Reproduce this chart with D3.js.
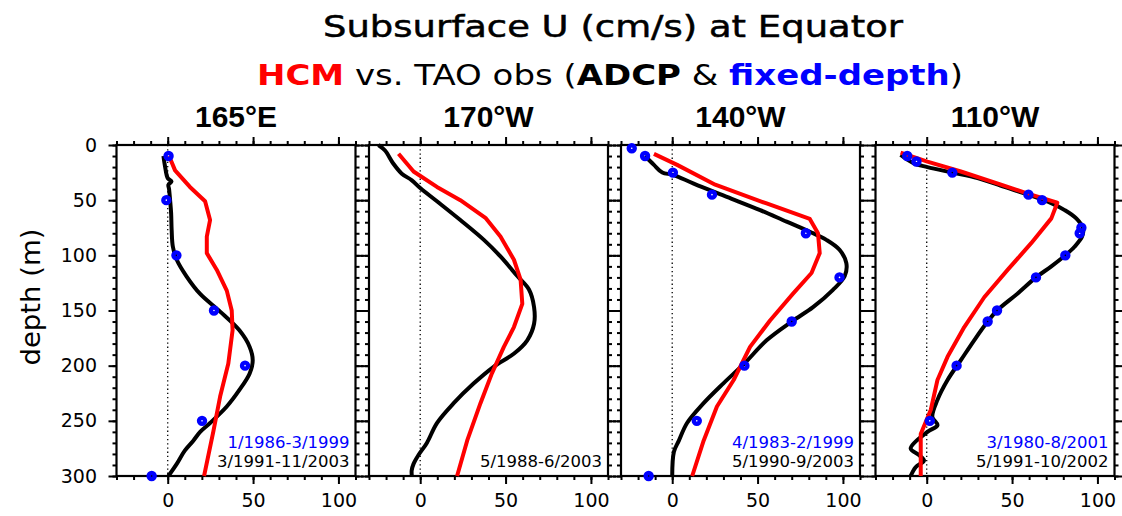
<!DOCTYPE html>
<html><head><meta charset="utf-8">
<script src="https://cdn.jsdelivr.net/npm/d3@7"></script>
<style>body{margin:0;background:#fff}svg{display:block}</style>
</head><body>
<svg id="c" width="1122" height="516"></svg>
<script>
// ---------------- data ----------------
const panelTitles = ["165\u00B0E", "170\u00B0W", "140\u00B0W", "110\u00B0W"];
const xTicksMajor = [0, 50, 100];
const yTicksMajor = [0, 50, 100, 150, 200, 250, 300];

// [depth (m), U (cm/s)]
const adcp165E = [[10,-2.5],[20,-1.5],[30,0],[33,2.2],[36,0.4],[40,0.8],[50,1.4],[62,2],[77,2.3],[92,3],[104,5.3],[119,11],[135,19],[151,30.7],[168,42],[183,48],[195,49.8],[207,48],[222,42],[237,34.6],[252,24.8],[260,19],[268,15],[277,10],[289,5.3],[300,0.4]];
const hcm165E  = [[10,0.8],[23,4.3],[38,13],[51,21.9],[68,24.8],[83,22.9],[98,22.9],[113,28.7],[132,34.6],[150,37.5],[168,38],[198,35.5],[228,30.7],[259,26.8],[300,21.3]];
const fixed165E = [[10,0.5],[50,-0.8],[100,5.1],[150,27.1],[200,45.3],[250,20.1],[300,-9.4]];

const adcp170W = [[0,-24.5],[5,-20.6],[17,-15.7],[26,-10.8],[32,-4.9],[39,0],[51,9.8],[68,23.5],[86,37.3],[101,47],[119,57],[131,63.7],[147,66.7],[162,66.7],[177,62.7],[189,55],[201,43],[216,31.4],[234,19.6],[252,9.8],[270,3.9],[281,-1],[289,-3.9],[295,-5],[300,-4.9]];
const hcm170W  = [[8,-12.7],[24,-3.9],[38,9.8],[50,23.5],[66,38.2],[83,47],[104,54.9],[122,58.8],[144,59.8],[165,54.9],[183,49],[207,42],[234,35.3],[268,27.5],[300,21.6]];
const fixed170W = [];

const adcp140W = [[10,-16],[18,-10.7],[25,-5.8],[27,0.4],[35,12.6],[47,32],[59,51.5],[69.5,67],[78.6,80.6],[86,90.3],[95,98],[107,102],[119,101],[131.5,94],[147,82.5],[160,70],[177,55.3],[198,42.3],[216,30],[234,18.4],[252,8.7],[268,3.9],[278,1],[300,0]];
const hcm140W  = [[8,-10.7],[18,2.9],[36,25.2],[53,55.3],[67,80.6],[80,85.4],[98,86.4],[116,81.6],[134.5,70.9],[159,57.3],[183,45.6],[213,36],[237,26.2],[268,18.4],[300,11.7]];
const fixed140W = [[3,-23.7],[10,-15.9],[25,0.4],[45,23.3],[80,78.3],[120,98],[160,70],[200,42.3],[250,14.4],[300,-13.8]];

const adcp110W = [[9,-15.3],[16.6,-7.5],[20,0.4],[25,15],[30,29.8],[38,45.5],[45,59.6],[51.4,71],[59,80.8],[66.5,87.6],[75.6,91.6],[83,91],[92,86.7],[100,81.2],[110,73],[120,64],[134.5,53.3],[150,41.2],[160,35.7],[177,27.8],[195,20],[213,12.2],[231,6.3],[246.5,3.3],[254,6.3],[260,0.4],[275,-9.4],[281,-4.5],[286,-1.6],[292,-6.5],[300,-9.4]];
const hcm110W  = [[7,-15.3],[15,0.4],[24,20],[36,43.5],[44,59.2],[52.3,76.5],[66.5,73],[89,61.2],[113,47.5],[138,33.7],[165,22],[192,12.2],[213,6.3],[240,2.4],[262,-3.5],[300,-3.5]];
const fixed110W = [[10,-11.4],[15,-6],[25,15],[45,59.6],[50,67.6],[75,90.6],[80,89.6],[100,81.2],[120,64],[150,41.2],[160,35.7],[200,17.5],[250,1.8]];

const fixedPeriods = ["1/1986-3/1999", "", "4/1983-2/1999", "3/1980-8/2001"];
const adcpPeriods  = ["3/1991-11/2003", "5/1988-6/2003", "5/1990-9/2003", "5/1991-10/2002"];

const adcpSeries  = [adcp165E, adcp170W, adcp140W, adcp110W];
const hcmSeries   = [hcm165E, hcm170W, hcm140W, hcm110W];
const fixedSeries = [fixed165E, fixed170W, fixed140W, fixed110W];

// ---------------- layout ----------------
const svg = d3.select("#c");
const panelLeft = [116.5, 369, 621, 875.5];
const panelW = 239;
const yTop = 145, yBottom = 476;
const y = d3.scaleLinear().domain([0, 300]).range([yTop, yBottom]);
const minorX = d3.range(-30, 111, 10);
const minorY = d3.range(0, 301, 10);
const numFont = "'DejaVu Sans', sans-serif";

// titles
svg.append("text").attr("x", 613).attr("y", 37).attr("text-anchor", "middle")
  .style("font-family", numFont).style("font-size", "31px")
  .attr("stroke", "#000").attr("stroke-width", 0.5)
  .attr("textLength", 580).attr("lengthAdjust", "spacingAndGlyphs")
  .text("Subsurface U (cm/s) at Equator");

const sub = svg.append("text").attr("x", 610).attr("y", 85).attr("text-anchor", "middle")
  .style("font-family", numFont).style("font-size", "29px")
  .attr("textLength", 706).attr("lengthAdjust", "spacingAndGlyphs");
sub.append("tspan").attr("fill", "#ff0000").style("font-weight", "bold").text("HCM");
sub.append("tspan").text(" vs. TAO obs (");
sub.append("tspan").style("font-weight", "bold").text("ADCP");
sub.append("tspan").text(" & ");
sub.append("tspan").attr("fill", "#0000ff").style("font-weight", "bold").text("fixed-depth");
sub.append("tspan").text(")");

// y label
svg.append("text").attr("transform", "translate(40,297) rotate(-90)").attr("text-anchor", "middle")
  .style("font-family", numFont).style("font-size", "27px")
  .attr("textLength", 137).attr("lengthAdjust", "spacingAndGlyphs")
  .text("depth (m)");

panelTitles.forEach((title, i) => {
  const x0 = panelLeft[i];
  const x = d3.scaleLinear().domain([-30, 110]).range([x0, x0 + panelW]);
  const g = svg.append("g");

  // zero line
  g.append("line").attr("x1", x(0)).attr("x2", x(0)).attr("y1", yTop).attr("y2", yBottom)
    .attr("stroke", "#000").attr("stroke-width", 1.3).attr("stroke-dasharray", "1.3,2.9");

  const styleAxis = sel => {
    sel.select(".domain").remove();
    sel.selectAll(".tick line").attr("stroke", "#000").attr("stroke-width", 2);
    sel.selectAll("text").style("font-family", numFont).style("font-size", "19px").attr("fill", "#000");
  };
  g.append("g").attr("transform", `translate(0,${yBottom})`)
    .call(d3.axisBottom(x).tickValues(minorX).tickSize(4).tickFormat("")).call(styleAxis);
  g.append("g").attr("transform", `translate(0,${yBottom})`)
    .call(d3.axisBottom(x).tickValues(xTicksMajor).tickSize(8).tickPadding(10).tickFormat(d3.format("d"))).call(styleAxis);
  g.append("g").attr("transform", `translate(0,${yTop})`)
    .call(d3.axisTop(x).tickValues(minorX).tickSize(4).tickFormat("")).call(styleAxis);
  g.append("g").attr("transform", `translate(0,${yTop})`)
    .call(d3.axisTop(x).tickValues(xTicksMajor).tickSize(8).tickFormat("")).call(styleAxis);
  g.append("g").attr("transform", `translate(${x0},0)`)
    .call(d3.axisLeft(y).tickValues(minorY).tickSize(4).tickFormat("")).call(styleAxis);
  g.append("g").attr("transform", `translate(${x0},0)`)
    .call(d3.axisLeft(y).tickValues(yTicksMajor).tickSize(8).tickPadding(11.5)
      .tickFormat(i === 0 ? d3.format("d") : "")).call(styleAxis);
  g.append("g").attr("transform", `translate(${x0 + panelW},0)`)
    .call(d3.axisRight(y).tickValues(minorY).tickSize(4).tickFormat("")).call(styleAxis);
  g.append("g").attr("transform", `translate(${x0 + panelW},0)`)
    .call(d3.axisRight(y).tickValues(yTicksMajor).tickSize(8).tickFormat("")).call(styleAxis);

  g.append("rect").attr("x", x0).attr("y", yTop).attr("width", panelW).attr("height", yBottom - yTop)
    .attr("fill", "none").attr("stroke", "#000").attr("stroke-width", 2.2);

  const cid = "clip" + i;
  svg.append("clipPath").attr("id", cid).append("rect")
    .attr("x", x0).attr("y", yTop - 6).attr("width", panelW).attr("height", yBottom - yTop + 12);
  const plot = g.append("g").attr("clip-path", `url(#${cid})`);

  const adcpLine = d3.line().x(d => x(d[1])).y(d => y(d[0])).curve(d3.curveCatmullRom.alpha(0.5));
  const hcmLine = d3.line().x(d => x(d[1])).y(d => y(d[0]));

  plot.append("path").attr("d", adcpLine(adcpSeries[i])).attr("fill", "none")
    .attr("stroke", "#000").attr("stroke-width", 4).attr("stroke-linejoin", "round");
  plot.append("path").attr("d", hcmLine(hcmSeries[i])).attr("fill", "none")
    .attr("stroke", "#ff0000").attr("stroke-width", 4).attr("stroke-linejoin", "round");

  g.selectAll("circle.fx").data(fixedSeries[i]).enter().append("circle")
    .attr("cx", d => x(d[1])).attr("cy", d => y(d[0])).attr("r", 3)
    .attr("fill", "none").attr("stroke", "#0000ff").attr("stroke-width", 4.4);

  svg.append("text").attr("x", x0 + panelW / 2).attr("y", 127).attr("text-anchor", "middle")
    .style("font-family", "'Liberation Sans', Arial, sans-serif").style("font-size", "30px")
    .style("font-weight", "bold").text(title);

  if (fixedPeriods[i]) {
    svg.append("text").attr("x", x0 + panelW - 6).attr("y", 448).attr("text-anchor", "end")
      .style("font-family", numFont).style("font-size", "16.5px").attr("fill", "#0000ff")
      .text(fixedPeriods[i]);
  }
  svg.append("text").attr("x", x0 + panelW - 6).attr("y", 467).attr("text-anchor", "end")
    .style("font-family", numFont).style("font-size", "16.5px").attr("fill", "#000")
    .text(adcpPeriods[i]);
});
</script>
</body></html>
